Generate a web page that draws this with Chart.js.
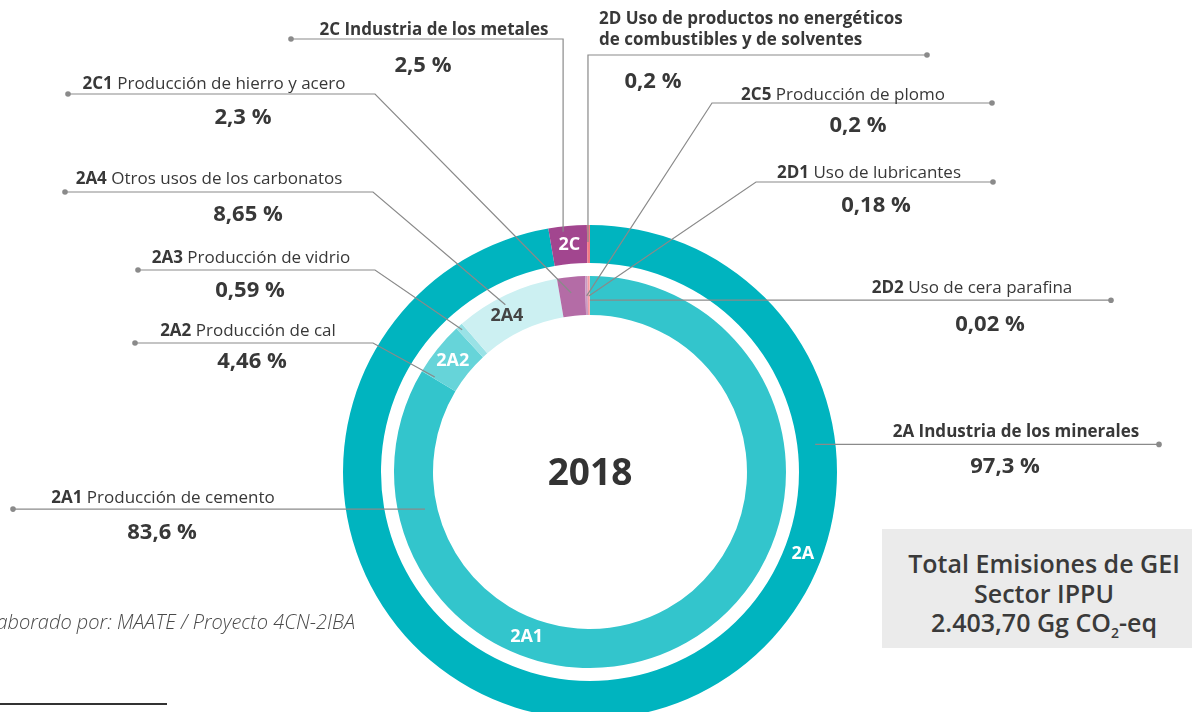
<!DOCTYPE html>
<html>
<head>
<meta charset="utf-8">
<script src="https://cdn.jsdelivr.net/npm/chart.js@4"></script>
<style>
  html, body { margin: 0; padding: 0; background: #fff; }
  body { width: 1192px; height: 712px; overflow: hidden; position: relative; font-family: "Open Sans", sans-serif; color: #383838; }
  #myChart { position: absolute; left: 0; top: 0; }
  .lbl { position: absolute; white-space: pre; transform: translate(-50%, -50%); font-size: 17px; line-height: 21px; }
  .lbl b { font-weight: 700; }
  .lbl.all { font-weight: 700; }
  .lbl.left { transform: translate(0, -50%); }
  .val { position: absolute; white-space: nowrap; transform: translate(-50%, -50%); font-size: 22px; font-weight: 700; }
  #total { position: absolute; left: 882px; top: 529px; width: 320px; height: 119px; background: #ebebeb; }
  #total div { position: absolute; left: 162px; transform: translate(-50%, -50%); white-space: nowrap; font-size: 25px; font-weight: 600; color: #3a3a3a; }
  #total sub { font-size: 14px; }
  #source { position: absolute; right: 837px; top: 621px; transform: translateY(-50%); white-space: nowrap; font-size: 20px; font-style: italic; font-weight: 300; color: #4a4a4a; }
  #rule { position: absolute; left: 0; top: 703px; width: 167px; height: 2px; background: #333; }
</style>
</head>
<body>
<canvas id="myChart" width="1192" height="712"></canvas>
<div id="total"></div>
<div id="source">Elaborado por: MAATE / Proyecto 4CN-2IBA</div>
<div id="rule"></div>
<script>
// outer ring: sub-sectors (% of IPPU total)
var sectorCodes = ['2A', '2C', '2D'];
var sectorNames = ['Industria de los minerales', 'Industria de los metales', 'Uso de productos no energéticos\nde combustibles y de solventes'];
var sectorShares = [97.3, 2.5, 0.2];
var sectorColors = ['#00b4bf', '#a2468f', '#f27a86'];

// inner ring: categories (% of IPPU total)
var categoryCodes = ['2A1', '2A2', '2A3', '2A4', '2C1', '2C5', '2D1', '2D2'];
var categoryNames = ['Producción de cemento', 'Producción de cal', 'Producción de vidrio', 'Otros usos de los carbonatos',
  'Producción de hierro y acero', 'Producción de plomo', 'Uso de lubricantes', 'Uso de cera parafina'];
var categoryShares = [83.6, 4.46, 0.59, 8.65, 2.3, 0.2, 0.18, 0.02];
var categoryColors = ['#33c5cc', '#66d4d9', '#99e2e6', '#ccf0f2', '#b46ca6', '#c99bc2', '#f59ca4', '#f9c4c8'];

var year = '2018';
var totalLines = ['Total Emisiones de GEI', 'Sector IPPU', '2.403,70 Gg CO<sub>2</sub>-eq'];

// callout layout: ring (0 outer, 2 inner), slice, point on slice [angle frac, radial frac],
// bend point (null = straight, ['v', y] = vertical first), end dot x, label centre, value centre
var callouts = [
  {ring: 0, i: 0, at: [0.237, 0.47], bend: null, dot: 1159, label: [1016, 430], value: [1005, 464]},
  {ring: 0, i: 1, at: [0.37, 0.86], bend: ['v', 39], dot: 291, label: [434, 28], value: [423, 63]},
  {ring: 0, i: 2, at: [0.3, 0.55], bend: ['v', 55], dot: 927, label: [599, 28], value: [653, 79], left: true},
  {ring: 2, i: 0, at: [0.855, 0.31], bend: null, dot: 13, label: [163, 496], value: [162, 530]},
  {ring: 2, i: 1, at: [0.03, 0.64], bend: [373, 343], dot: 135, label: [248, 329], value: [252, 359]},
  {ring: 2, i: 2, at: [0.5, 0.88], bend: [375, 270], dot: 138, label: [251, 256], value: [250, 288]},
  {ring: 2, i: 3, at: [0.45, 0.78], bend: [373, 192], dot: 65, label: [209, 177], value: [248, 212]},
  {ring: 2, i: 4, at: [0.45, 0.59], bend: [375, 94], dot: 68, label: [214, 82], value: [243, 115]},
  {ring: 2, i: 5, at: [0.5, 0.49], bend: [712, 103], dot: 992, label: [843, 93], value: [858, 123]},
  {ring: 2, i: 6, at: [0.5, 0.49], bend: [756, 182], dot: 993, label: [869, 171], value: [876, 203]},
  {ring: 2, i: 7, at: [0.5, 0.38], bend: null, dot: 1111, label: [972, 286], value: [990, 322]}
];

// short codes written on the rings
var ringTags = [
  {ring: 0, i: 0, at: 0.317, color: '#fff'},
  {ring: 0, i: 1, at: 0.5, color: '#fff'},
  {ring: 2, i: 0, at: 0.668, color: '#fff'},
  {ring: 2, i: 1, at: 0.5, color: '#fff'},
  {ring: 2, i: 3, at: 0.41, color: '#444'}
];

function pct(v) {
  return String(v).replace('.', ',') + ' %';
}

function pointOn(arc, f, rf) {
  var p = arc.getProps(['x', 'y', 'startAngle', 'endAngle', 'innerRadius', 'outerRadius'], true);
  var a = p.startAngle + (p.endAngle - p.startAngle) * f;
  var r = p.innerRadius + (p.outerRadius - p.innerRadius) * rf;
  return {x: p.x + r * Math.cos(a), y: p.y + r * Math.sin(a)};
}

var calloutPlugin = {
  id: 'callouts',
  afterDatasetsDraw: function(chart) {
    var c = chart.ctx;
    c.save();
    // leader lines
    c.strokeStyle = '#8a8a8a';
    c.fillStyle = '#8a8a8a';
    c.lineWidth = 1.2;
    callouts.forEach(function(co) {
      var arc = chart.getDatasetMeta(co.ring).data[co.i];
      var p = pointOn(arc, co.at[0], co.at[1]);
      var pts = [p];
      var endY = p.y;
      if (co.bend && co.bend[0] === 'v') {
        pts.push({x: p.x, y: co.bend[1]});
        endY = co.bend[1];
      } else if (co.bend) {
        pts.push({x: co.bend[0], y: co.bend[1]});
        endY = co.bend[1];
      }
      pts.push({x: co.dot, y: endY});
      c.beginPath();
      c.moveTo(pts[0].x, pts[0].y);
      for (var k = 1; k < pts.length; k++) c.lineTo(pts[k].x, pts[k].y);
      c.stroke();
      c.beginPath();
      c.arc(co.dot, endY, 2.8, 0, Math.PI * 2);
      c.fill();
    });
    // codes on the rings
    c.textAlign = 'center';
    c.textBaseline = 'middle';
    c.font = '700 18px "Open Sans"';
    ringTags.forEach(function(t) {
      var arc = chart.getDatasetMeta(t.ring).data[t.i];
      var p = pointOn(arc, t.at, 0.5);
      c.fillStyle = t.color;
      c.fillText(t.ring === 0 ? sectorCodes[t.i] : categoryCodes[t.i], p.x, p.y);
    });
    // year in the middle
    var any = chart.getDatasetMeta(0).data[0];
    c.fillStyle = '#333';
    c.font = '700 37px "Open Sans"';
    c.fillText(year, any.x, any.y + 2);
    c.restore();
  }
};

var ctx = document.getElementById('myChart').getContext('2d');
var chart = new Chart(ctx, {
  type: 'doughnut',
  data: {
    labels: categoryCodes,
    datasets: [
      {data: sectorShares, backgroundColor: sectorColors, weight: 38},
      {data: [1], backgroundColor: 'rgba(0,0,0,0)', weight: 13},
      {data: categoryShares, backgroundColor: categoryColors, weight: 39}
    ]
  },
  options: {
    responsive: false,
    animation: false,
    events: [],
    radius: 247,
    cutout: '63.56%',
    elements: {arc: {borderWidth: 0, hoverBorderWidth: 0, hoverOffset: 0}},
    layout: {padding: {left: 100, right: 112, top: 232, bottom: 0}},
    plugins: {legend: {display: false}, tooltip: {enabled: false}}
  },
  plugins: [calloutPlugin]
});

// callout texts
callouts.forEach(function(co) {
  var code = co.ring === 0 ? sectorCodes[co.i] : categoryCodes[co.i];
  var name = co.ring === 0 ? sectorNames[co.i] : categoryNames[co.i];
  var share = co.ring === 0 ? sectorShares[co.i] : categoryShares[co.i];
  var l = document.createElement('div');
  l.className = 'lbl' + (co.ring === 0 ? ' all' : '') + (co.left ? ' left' : '');
  l.innerHTML = '<b>' + code + '</b> ' + name;
  l.style.left = co.label[0] + 'px';
  l.style.top = co.label[1] + 'px';
  document.body.appendChild(l);
  var v = document.createElement('div');
  v.className = 'val';
  v.textContent = pct(share);
  v.style.left = co.value[0] + 'px';
  v.style.top = co.value[1] + 'px';
  document.body.appendChild(v);
});

var box = document.getElementById('total');
totalLines.forEach(function(t, k) {
  var d = document.createElement('div');
  d.innerHTML = t;
  d.style.top = (34 + k * 30) + 'px';
  box.appendChild(d);
});
</script>
</body>
</html>
